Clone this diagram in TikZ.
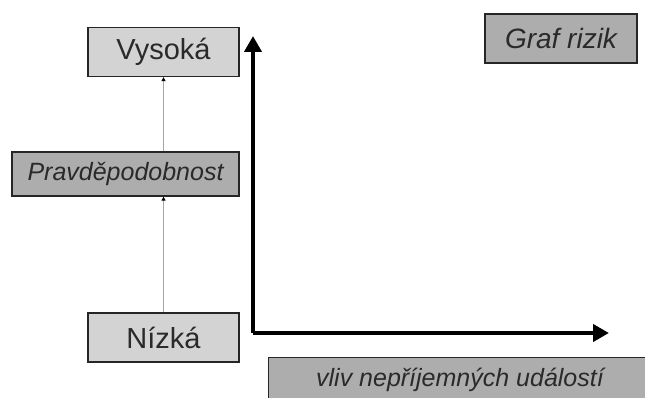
\documentclass[tikz,border=0pt]{standalone}
\usepackage{fontspec}
\setmainfont{Liberation Sans}
\usetikzlibrary{arrows.meta}
\definecolor{boxlight}{HTML}{D3D3D3}
\definecolor{boxdark}{HTML}{ADADAD}
\definecolor{txt}{HTML}{2A2A2A}
\tikzset{
  levelbox/.style={draw=black!85, line width=1.3pt, fill=boxlight, text=txt,
    minimum width=151pt, minimum height=49pt, inner sep=0pt,
    font=\fontsize{29}{31}\selectfont},
  tagbox/.style={draw=black!85, line width=1.3pt, fill=boxdark, text=txt,
    inner sep=0pt, font=\fontsize{25}{27}\selectfont\itshape},
  thinlink/.style={draw=black!35, line width=1pt,
    -{Triangle[length=4pt,width=4pt,fill=black,color=black]}},
  axisline/.style={line width=4pt, black,
    -{Triangle[length=16pt,width=17pt]}}
}
\begin{document}
\begin{tikzpicture}[x=1pt,y=-1pt]
  \useasboundingbox (0,0) rectangle (645,398);

  % probability scale
  \node[levelbox] (vys) at (163.5,52) {Vysoká};
  \node[tagbox, minimum width=227pt, minimum height=44pt] (prav) at (125.5,174) {Pravděpodobnost};
  \node[levelbox] (niz) at (163.5,337.5) {Nízká};

  \draw[thinlink] (niz.north) -- (niz.north |- prav.south);
  \draw[thinlink] (prav.north -| vys.south) -- (vys.south);

  % title
  \node[tagbox, minimum width=152pt, minimum height=49pt,
        font=\fontsize{28}{30}\selectfont\itshape] (graf) at (561,38.5) {Graf rizik};

  % axes
  \coordinate (origin) at (253,333);
  \coordinate (ytop) at (253,36);
  \coordinate (xend) at (609,333);
  \draw[axisline] (origin) -- (ytop);
  \draw[axisline] (origin) -- (xend);

  % impact label, running off the lower right edge
  \begin{scope}
    \clip (0,0) rectangle (645,398);
    \node[tagbox, minimum width=384pt, minimum height=44pt, anchor=north west] (vliv) at (268,357) {};
    \node[text=txt, font=\fontsize{25}{27}\selectfont\itshape, inner sep=0pt]
          (vlivtxt) at (460,380) {vliv nepříjemných událostí};
  \end{scope}
\end{tikzpicture}
\end{document}
